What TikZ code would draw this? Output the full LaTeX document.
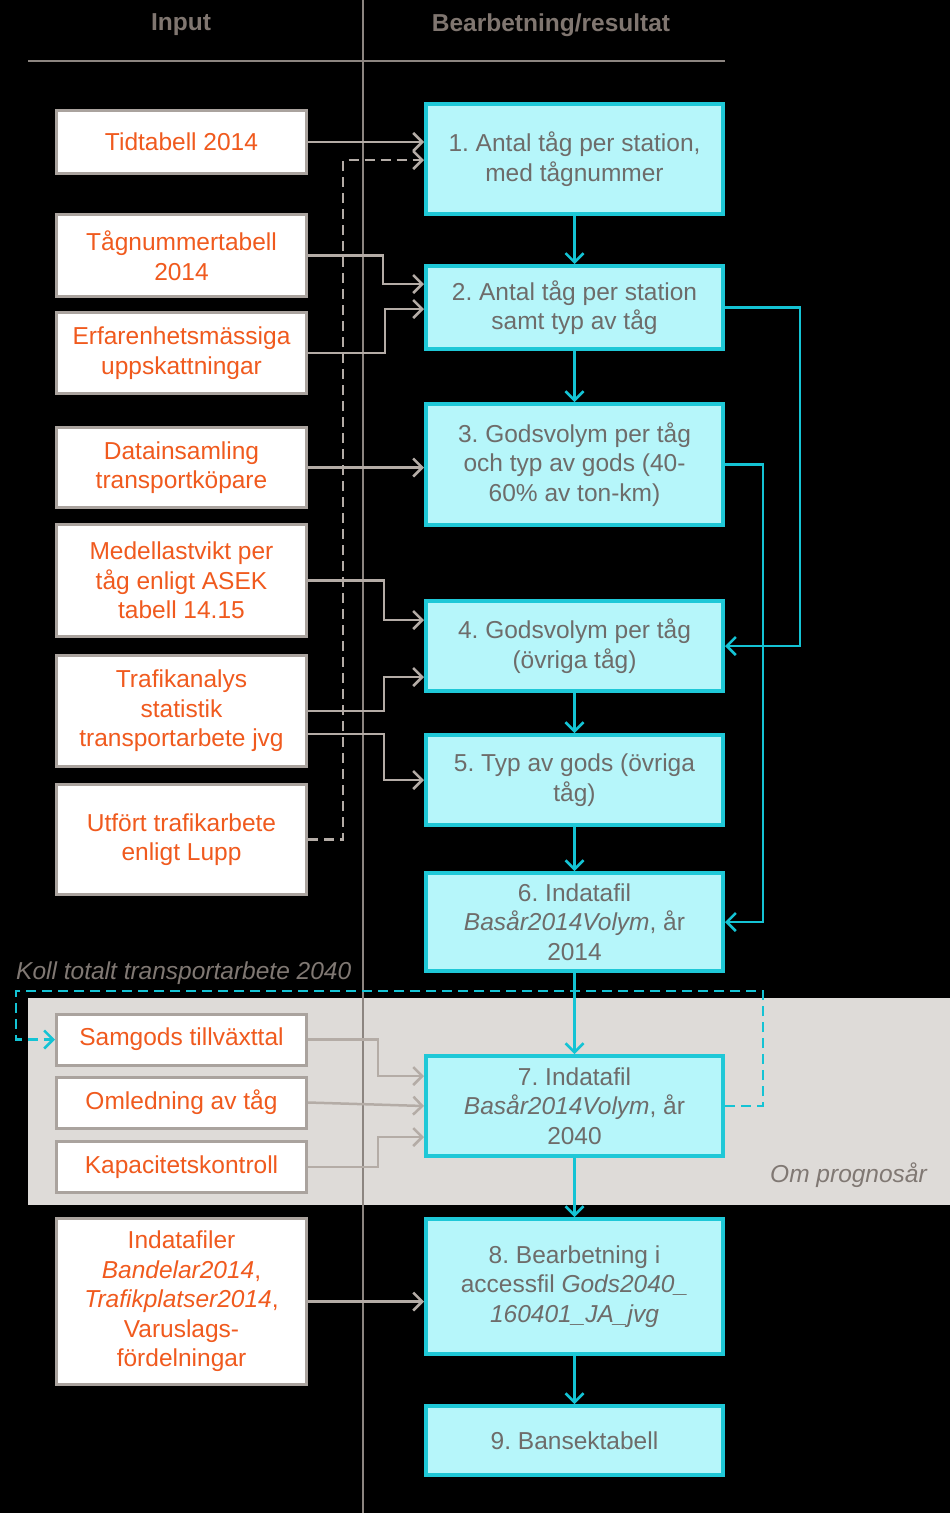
\documentclass[tikz,border=0pt]{standalone}
\usepackage{fontspec}
\setmainfont{Liberation Sans}
\usetikzlibrary{arrows.meta,calc}
\definecolor{orangetxt}{RGB}{240,90,30}
\definecolor{graytxt}{RGB}{110,108,106}
\definecolor{cyanfill}{RGB}{182,246,250}
\definecolor{cyanborder}{RGB}{30,200,215}
\definecolor{cyanline}{RGB}{20,195,212}
\definecolor{inborder}{RGB}{170,163,158}
\definecolor{arrowgray}{RGB}{180,172,166}
\definecolor{bandgray}{RGB}{222,219,216}
\definecolor{headgray}{RGB}{128,118,112}
\definecolor{sepgray}{RGB}{140,133,128}
\definecolor{labelgray}{RGB}{128,120,115}
\frenchspacing
\begin{document}
\begin{tikzpicture}[x=1pt,y=-1pt,
  every node/.style={font=\fontsize{24.5}{29.5}\selectfont},
  inbox/.style={draw=inborder, line width=3pt, fill=white, text=orangetxt,
    minimum width=250pt, align=center, inner sep=0pt},
  procbox/.style={draw=cyanborder, line width=4pt, fill=cyanfill, text=graytxt,
    minimum width=297pt, align=center, inner sep=0pt},
  headtxt/.style={text=headgray, font=\fontsize{24.5}{29.5}\selectfont\bfseries},
  labeltxt/.style={text=labelgray, font=\fontsize{24.5}{29.5}\selectfont\itshape},
  sepline/.style={draw=sepgray, line width=1.5pt},
  garrow/.style={draw=arrowgray, line width=2.5pt, -{Straight Barb[length=9pt,width=18pt,line width=2.5pt]}},
  carrow/.style={draw=cyanline, line width=2.5pt, -{Straight Barb[length=9pt,width=18pt,line width=2.5pt]}},
  dashpat/.style={dash pattern=on 10pt off 6pt}
]
\fill[black] (0,0) rectangle (950,1513);
\useasboundingbox (0,0) rectangle (950,1513);
\fill[bandgray] (28,998) rectangle (950,1205);
\draw[sepline] (363,0) -- (363,1513);
\draw[sepline] (28,61) -- (725,61);
\node[headtxt] (hin) at (181,25) {Input};
\node[headtxt] (hout) at (551,25) {Bearbetning/resultat};

% input boxes
\node[inbox, minimum height=63pt] (A) at (181.5,142) {Tidtabell 2014};
\node[inbox, minimum height=82pt] (B) at (181.5,255.5) {Tågnummertabell\\2014};
\node[inbox, minimum height=81pt] (C) at (181.5,353) {Erfarenhetsmässiga\\uppskattningar};
\node[inbox, minimum height=80pt] (D) at (181.5,467.5) {Datainsamling\\transportköpare};
\node[inbox, minimum height=112pt] (E) at (181.5,580.5) {Medellastvikt per\\tåg enligt ASEK\\tabell 14.15};
\node[inbox, minimum height=111pt] (F) at (181.5,711) {Trafikanalys\\statistik\\transportarbete jvg};
\node[inbox, minimum height=110pt] (G) at (181.5,839.5) {Utfört trafikarbete\\enligt Lupp};
\node[inbox, minimum height=51pt] (H) at (181.5,1039.5) {Samgods tillväxttal};
\node[inbox, minimum height=51pt] (I) at (181.5,1102.5) {Omledning av tåg};
\node[inbox, minimum height=51pt] (J) at (181.5,1167) {Kapacitetskontroll};
\node[inbox, minimum height=166pt] (K) at (181.5,1301.5) {Indatafiler\\\textit{Bandelar2014},\\\textit{Trafikplatser2014},\\Varuslags-\\fördelningar};

% process boxes
\node[procbox, minimum height=110pt] (n1) at (574.5,159) {1. Antal tåg per station,\\med tågnummer};
\node[procbox, minimum height=83pt] (n2) at (574.5,307.5) {2. Antal tåg per station\\samt typ av tåg};
\node[procbox, minimum height=121pt] (n3) at (574.5,464.5) {3. Godsvolym per tåg\\och typ av gods (40-\\60\% av ton-km)};
\node[procbox, minimum height=90pt] (n4) at (574.5,646) {4. Godsvolym per tåg\\(övriga tåg)};
\node[procbox, minimum height=90pt] (n5) at (574.5,780) {5. Typ av gods (övriga\\tåg)};
\node[procbox, minimum height=98pt] (n6) at (574.5,922) {6. Indatafil\\\textit{Basår2014Volym}, år\\2014};
\node[procbox, minimum height=100pt] (n7) at (574.5,1106) {7. Indatafil\\\textit{Basår2014Volym}, år\\2040};
\node[procbox, minimum height=135pt] (n8) at (574.5,1286.5) {8. Bearbetning i\\accessfil \textit{Gods2040\_}\\\textit{160401\_JA\_jvg}};
\node[procbox, minimum height=69pt] (n9) at (574.5,1440.5) {9. Bansektabell};

\node[labeltxt, anchor=west, inner sep=0pt] (koll) at (16,973) {Koll totalt transportarbete 2040};
\node[labeltxt, anchor=east, inner sep=0pt] (om) at (927,1175) {Om prognosår};

% gray connectors
\draw[garrow] (A.east) -- (A.east -| n1.west);
\draw[garrow, dashpat] (G.east) -| (343,160) -- (n1.west |- 0,160);
\draw[garrow] (B.east) -- (B.east -| 383,0) |- (n2.west |- 0,284);
\draw[garrow] (C.east) -- (C.east -| 385,0) |- (n2.west |- 0,309);
\draw[garrow] (D.east) -- (D.east -| n3.west);
\draw[garrow] (E.east) -- (E.east -| 384,0) |- (n4.west |- 0,620);
\draw[garrow] (F.east) -- (F.east -| 384,0) |- (n4.west |- 0,677);
\draw[garrow] (F.east |- 0,734) -- (384,734) |- (n5.west);
\draw[garrow] (H.east) -- (H.east -| 378,0) |- (n7.west |- 0,1076);
\draw[garrow] (I.east) -- (n7.west);
\draw[garrow] (J.east) -- (J.east -| 378,0) |- (n7.west |- 0,1137);
\draw[garrow] (K.east) -- (K.east -| n8.west);

% cyan connectors
\draw[carrow] (n1.south) -- (n2.north);
\draw[carrow] (n2.south) -- (n3.north);
\draw[carrow] (n4.south) -- (n5.north);
\draw[carrow] (n5.south) -- (n6.north);
\draw[carrow] (n6.south) -- (n7.north);
\draw[carrow] (n7.south) -- (n8.north);
\draw[carrow] (n8.south) -- (n9.north);
\draw[carrow] (n2.east) -- (n2.east -| 800,0) |- (n4.east);
\draw[carrow] (n3.east) -- (n3.east -| 763,0) |- (n6.east);
\draw[carrow, dashpat] (n7.east) -- (n7.east -| 763,0) -- (763,991) -- (16,991) |- (H.west);
\end{tikzpicture}
\end{document}
